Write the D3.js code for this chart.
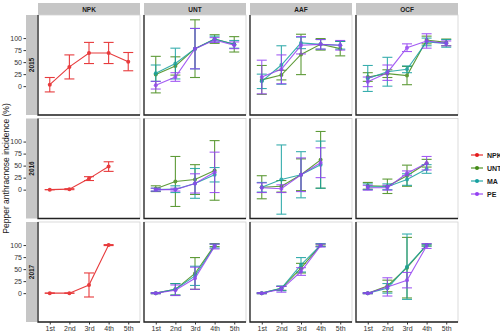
<!DOCTYPE html>
<html>
<head>
<meta charset="utf-8">
<script src="https://cdn.jsdelivr.net/npm/d3@7"></script>
<style>
  body { margin: 0; background: #fff; }
  svg { font-family: "Liberation Sans", Arial, sans-serif; }
</style>
</head>
<body>
<script>
const years = ["2015", "2016", "2017"];
const treatments = ["NPK", "UNT", "AAF", "OCF"];
const seriesNames = ["NPK", "UNT", "MA", "PE"];
const sprays = ["1st", "2nd", "3rd", "4th", "5th"];
const yTicks = [0, 25, 50, 75, 100];

// [panel, series, means, error]
const incidence2015 = [
  ["NPK", "NPK", [3, 40, 69, 69, 51], [15, 25, 22, 22, 19]],
  ["UNT", "UNT", [24, 42, 78, 98, 87], [38, 19, 60, 9, 16]],
  ["UNT", "MA", [27, 47, 78, 98, 87], [17, 32, 42, 6, 8]],
  ["UNT", "PE", [2, 19, 78, 96, 85], [8, 9, 42, 5, 7]],
  ["AAF", "UNT", [13, 23, 66, 87, 78], [30, 10, 42, 12, 15]],
  ["AAF", "MA", [10, 44, 90, 87, 85], [15, 40, 12, 10, 8]],
  ["AAF", "PE", [19, 35, 85, 87, 85], [35, 30, 18, 10, 10]],
  ["OCF", "UNT", [19, 26, 22, 96, 91], [9, 8, 19, 8, 7]],
  ["OCF", "MA", [16, 30, 35, 92, 89], [27, 30, 7, 8, 8]],
  ["OCF", "PE", [9, 28, 80, 94, 89], [10, 16, 8, 15, 5]]
];
const incidence2016 = [
  ["NPK", "NPK", [0, 1, 23, 48], [0, 1, 4, 10]],
  ["UNT", "UNT", [2, 17, 21, 40], [6, 52, 31, 62]],
  ["UNT", "MA", [0, 1, 13, 31], [3, 7, 31, 15]],
  ["UNT", "PE", [0, 0, 13, 36], [3, 3, 20, 42]],
  ["AAF", "UNT", [5, 7, 31, 62], [24, 12, 33, 59]],
  ["AAF", "MA", [5, 21, 31, 52], [10, 72, 48, 49]],
  ["AAF", "PE", [4, 2, 31, 56], [10, 8, 35, 31]],
  ["OCF", "UNT", [8, 7, 29, 55], [7, 15, 22, 8]],
  ["OCF", "MA", [6, 6, 21, 43], [6, 6, 12, 9]],
  ["OCF", "PE", [4, 4, 34, 55], [5, 5, 5, 14]]
];
const incidence2017 = [
  ["NPK", "NPK", [0, 0, 17, 100], [0, 0, 25, 1]],
  ["UNT", "UNT", [0, 8, 41, 100], [1, 12, 33, 3]],
  ["UNT", "MA", [0, 8, 36, 98], [1, 12, 20, 4]],
  ["UNT", "PE", [0, 6, 31, 97], [1, 11, 23, 5]],
  ["AAF", "UNT", [0, 10, 52, 100], [1, 4, 10, 2]],
  ["AAF", "MA", [0, 10, 59, 100], [1, 5, 15, 3]],
  ["AAF", "PE", [0, 8, 45, 99], [1, 6, 8, 3]],
  ["OCF", "UNT", [0, 15, 53, 100], [1, 12, 63, 2]],
  ["OCF", "MA", [0, 10, 55, 100], [1, 10, 68, 2]],
  ["OCF", "PE", [0, 13, 27, 98], [1, 19, 16, 5]]
];
const byYear = [incidence2015, incidence2016, incidence2017];

const colors = ["#e41a1c", "#438a16", "#16a0a0", "#9440f2"];
const color = d3.scaleOrdinal(seriesNames, colors);

const W = 102, H = 100;
const padLeft = 38, padTop = 15, colStep = 106, rowStep = 103.5;

const svg = d3.select("body").append("svg")
  .attr("width", 500).attr("height", 331);

const x = d3.scalePoint(sprays, [0, W]).padding(0.6);
const y = d3.scaleLinear([-60, 148], [H, 0]);

// top strips
treatments.forEach((t, c) => {
  const g = svg.append("g").attr("transform", `translate(${padLeft + c * colStep},3)`);
  g.append("rect").attr("width", W).attr("height", 12).attr("fill", "#c6c6c6");
  g.append("text").attr("x", W / 2).attr("y", 8.5).attr("text-anchor", "middle")
    .attr("font-size", 6.5).attr("font-weight", "bold").attr("fill", "#1a1a1a").text(t);
});

years.forEach((yr, r) => {
  const py = padTop + r * rowStep;
  // left strip
  const s = svg.append("g").attr("transform", `translate(26,${py})`);
  s.append("rect").attr("width", 11).attr("height", H).attr("fill", "#c6c6c6");
  s.append("text").attr("transform", `translate(7.8,${H / 2}) rotate(-90)`)
    .attr("text-anchor", "middle").attr("font-size", 6.5).attr("font-weight", "bold")
    .attr("fill", "#1a1a1a").text(yr);

  // y axis
  const ya = svg.append("g").attr("transform", `translate(26,${py})`)
    .call(d3.axisLeft(y).tickValues(yTicks).tickSize(2.5).tickPadding(1.5));
  ya.select(".domain").remove();
  ya.selectAll("line").attr("stroke", "#333");
  ya.selectAll("text").attr("font-size", 7).attr("fill", "#333");

  treatments.forEach((t, c) => {
    const g = svg.append("g").attr("transform", `translate(${padLeft + c * colStep},${py})`);
    g.append("rect").attr("width", W).attr("height", H)
      .attr("fill", "#fff").attr("stroke", "#d2d2d2").attr("stroke-width", 0.8);
    g.append("path").attr("d", `M0,0V${H}H${W}`)
      .attr("fill", "none").attr("stroke", "#222").attr("stroke-width", 1.3);

    const rows = byYear[r].filter(d => d[0] === t);
    rows.forEach(([, name, means, errs]) => {
      const pts = means.map((m, i) => ({ s: sprays[i], m: m, e: errs[i] }));
      const col = color(name);
      const sg = g.append("g").attr("stroke", col).attr("opacity", 0.85);
      sg.append("path").datum(pts)
        .attr("fill", "none").attr("stroke-width", 1.1)
        .attr("d", d3.line().x(d => x(d.s)).y(d => y(d.m)));
      const eb = sg.selectAll(".eb").data(pts).enter().append("g");
      eb.append("line").attr("x1", d => x(d.s)).attr("x2", d => x(d.s))
        .attr("y1", d => y(d.m + d.e)).attr("y2", d => y(d.m - d.e)).attr("stroke-width", 1.1);
      eb.append("line").attr("x1", d => x(d.s) - 5).attr("x2", d => x(d.s) + 5)
        .attr("y1", d => y(d.m + d.e)).attr("y2", d => y(d.m + d.e)).attr("stroke-width", 1.1);
      eb.append("line").attr("x1", d => x(d.s) - 5).attr("x2", d => x(d.s) + 5)
        .attr("y1", d => y(d.m - d.e)).attr("y2", d => y(d.m - d.e)).attr("stroke-width", 1.1);
      sg.selectAll("circle").data(pts).enter().append("circle")
        .attr("cx", d => x(d.s)).attr("cy", d => y(d.m)).attr("r", 2)
        .attr("fill", col).attr("stroke", "none");
    });

    if (r === years.length - 1) {
      const xa = g.append("g").attr("transform", `translate(0,${H})`)
        .call(d3.axisBottom(x).tickSize(2.5).tickPadding(1.5));
      xa.select(".domain").remove();
      xa.selectAll("line").attr("stroke", "#333");
      xa.selectAll("text").attr("font-size", 7).attr("fill", "#333");
    }
  });
});

// y title
svg.append("text").attr("transform", `translate(9,${padTop + (rowStep * 2 + H) / 2}) rotate(-90)`)
  .attr("text-anchor", "middle").attr("font-size", 8.5).attr("fill", "#1a1a1a")
  .text("Pepper anthracnose incidence (%)");

// legend
const lg = svg.append("g").attr("transform", "translate(471,155)");
seriesNames.forEach((n, i) => {
  const it = lg.append("g").attr("transform", `translate(0,${i * 13})`);
  it.append("line").attr("x1", 0).attr("x2", 12).attr("stroke", color(n)).attr("stroke-width", 1.1);
  it.append("circle").attr("cx", 6).attr("r", 2).attr("fill", color(n));
  it.append("text").attr("x", 16).attr("y", 2.5).attr("font-size", 7).attr("font-weight", "bold")
    .attr("fill", "#1a1a1a").text(n);
});
</script>
</body>
</html>
